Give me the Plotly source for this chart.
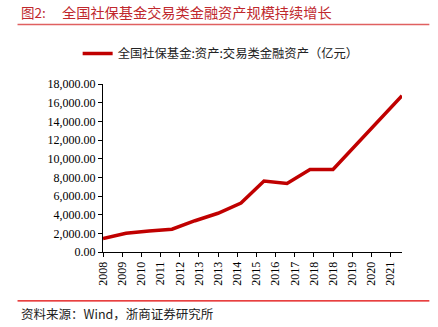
import plotly.graph_objects as go

years = [2008, 2009, 2010, 2011, 2012, 2013, 2014, 2015, 2016, 2017, 2018, 2019, 2020, 2021]
assets = [1440, 2000, 2250, 2440, 3350, 4150, 5250, 7600, 7350, 8850, 8850, 11450, 14100, 16750]
tick_labels = ["2008", "2009", "2010", "2011", "2012", "2013", "2013", "2014",
               "2015", "2016", "2017", "2018", "2018", "2019", "2020", "2021"]
tick_vals = [2008 + k * 10 / 12 for k in range(len(tick_labels))]
series_name = "全国社保基金:资产:交易类金融资产（亿元）"
title_label = "图2:"
title_text = "全国社保基金交易类金融资产规模持续增长"
source_text = "资料来源：Wind，浙商证券研究所"

W, H = 438, 327
L, R, T, B = 103.3, 36.3, 84.3, 75.3
pw, ph = W - L - R, H - T - B


def px_x(p):
    return (p - L) / pw


def px_y(p):
    return (H - B - p) / ph


cjk = "Noto Sans CJK SC"
serif = "Liberation Serif"

fig = go.Figure()
fig.add_trace(go.Scatter(x=years, y=assets, mode="lines", name=series_name,
                         line=dict(color="#c00000", width=3.5)))

fig.update_layout(
    width=W, height=H,
    margin=dict(l=L, r=R, t=T, b=B),
    paper_bgcolor="white", plot_bgcolor="white",
    showlegend=True,
    legend=dict(orientation="h", x=px_x(78), xanchor="left", y=px_y(54), yanchor="middle",
                font=dict(family=cjk, size=12.3, color="#222"), bgcolor="rgba(0,0,0,0)",
                itemwidth=30),
    xaxis=dict(range=[2008, 2021], tickmode="array", tickvals=tick_vals, ticktext=tick_labels,
               tickangle=-90, ticks="outside", ticklen=4, tickcolor="#000",
               showline=True, linecolor="#000", linewidth=1, showgrid=False, zeroline=False,
               tickfont=dict(family=serif, size=12, color="#000")),
    yaxis=dict(range=[0, 18000], tickmode="linear", tick0=0, dtick=2000, tickformat=",.2f",
               ticks="outside", ticklen=4, tickcolor="#000",
               showline=True, linecolor="#000", linewidth=1, showgrid=False, zeroline=False,
               tickfont=dict(family=serif, size=12, color="#000")),
    shapes=[
        dict(type="line", xref="paper", yref="paper", x0=px_x(18), x1=px_x(429),
             y0=px_y(25), y1=px_y(25), line=dict(color="#e06060", width=1.5)),
        dict(type="line", xref="paper", yref="paper", x0=px_x(18), x1=px_x(429),
             y0=px_y(300.5), y1=px_y(300.5), line=dict(color="#e00000", width=1.2)),
    ],
    annotations=[
        dict(text=title_label, xref="paper", yref="paper", x=px_x(19), y=px_y(13),
             xanchor="left", yanchor="middle", showarrow=False,
             font=dict(family=cjk, size=13.5, color="#c0282d")),
        dict(text=title_text, xref="paper", yref="paper", x=px_x(60), y=px_y(13),
             xanchor="left", yanchor="middle", showarrow=False,
             font=dict(family=cjk, size=14.2, color="#c0282d")),
        dict(text=source_text, xref="paper", yref="paper", x=px_x(19), y=px_y(313),
             xanchor="left", yanchor="middle", showarrow=False,
             font=dict(family=cjk, size=12.5, color="#222")),
    ],
)

fig.write_html("out.html")
